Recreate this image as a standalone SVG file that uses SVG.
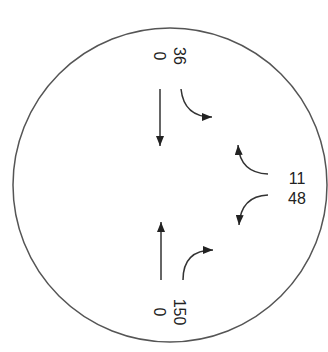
<svg xmlns="http://www.w3.org/2000/svg" width="328" height="352" viewBox="0 0 328 352">
  <style>
    .lbl { font-family: "Liberation Sans", Arial, sans-serif; font-size: 16px; fill: #222; }
    .arr { fill: none; stroke: #333; stroke-width: 1.5; marker-end: url(#ah); }
  </style>
  <defs>
    <marker id="ah" markerUnits="userSpaceOnUse" markerWidth="10" markerHeight="8" refX="10" refY="4" orient="auto">
      <path d="M0,0 L10,4 L0,8 z" fill="#222"/>
    </marker>
  </defs>
  <rect width="328" height="352" fill="#ffffff"/>
  <circle id="boundary" cx="170" cy="185" r="157" fill="none" stroke="#555" stroke-width="1.5"/>
  <g id="label-top">
    <text class="lbl" text-anchor="middle" transform="translate(174,56) rotate(90)">36<tspan x="0" dy="20">0</tspan></text>
  </g>
  <g id="label-bottom">
    <text class="lbl" text-anchor="middle" transform="translate(174,312) rotate(90)">150<tspan x="0" dy="20">0</tspan></text>
  </g>
  <g id="label-right">
    <text class="lbl" text-anchor="middle" x="297" y="184">11</text>
    <text class="lbl" text-anchor="middle" x="297" y="204">48</text>
  </g>
  <g id="connectors">
    <path class="arr" d="M160,89 L160,146"/>
    <path class="arr" d="M181,89 Q184,117 212,117"/>
    <path class="arr" d="M268,174 Q240,173 238,145"/>
    <path class="arr" d="M268,195 Q241,196 239,225"/>
    <path class="arr" d="M161,280 L161,222"/>
    <path class="arr" d="M183,280 Q183,250 213,250"/>
  </g>
</svg>
